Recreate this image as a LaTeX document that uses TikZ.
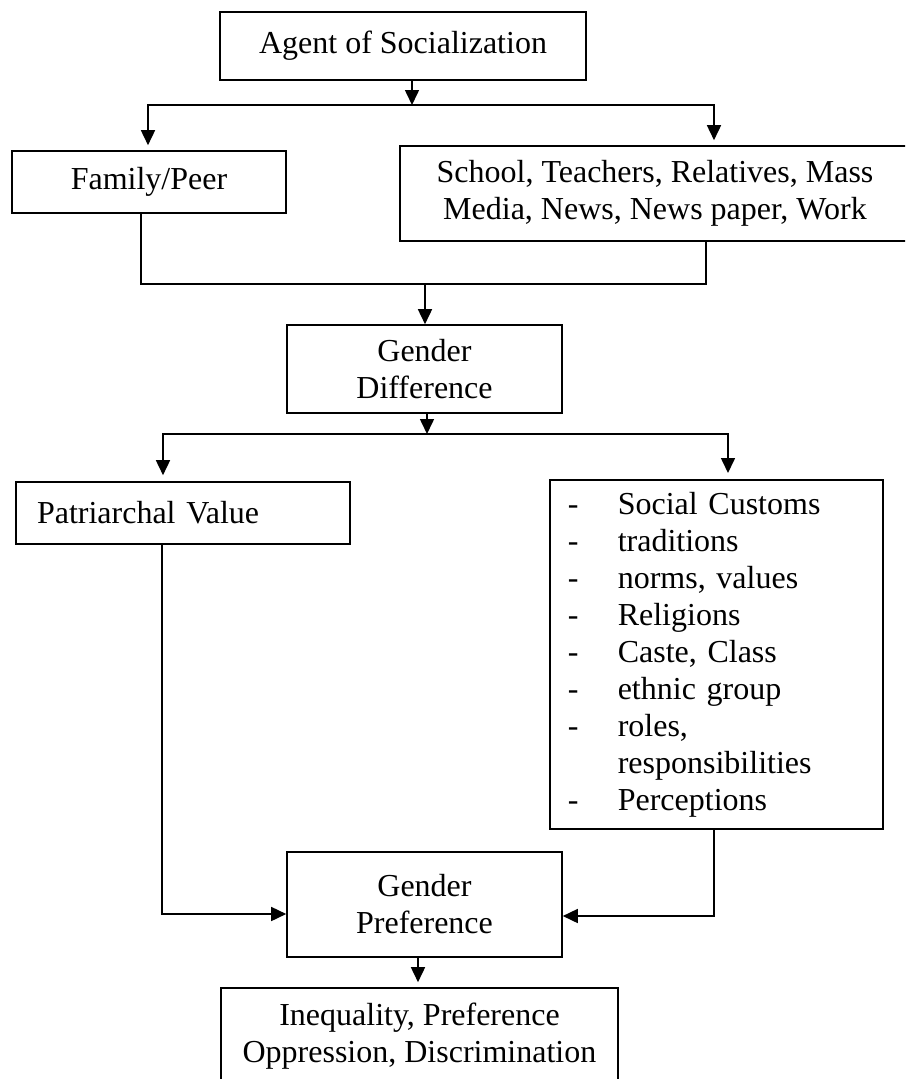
\documentclass[tikz,border=0pt]{standalone}
\usepackage{fontspec}
\setmainfont{Liberation Serif}
\usetikzlibrary{arrows.meta}
\begin{document}
\begin{tikzpicture}[x=1pt,y=-1pt,
  box/.style={draw, line width=1.6pt, inner sep=0pt, align=center, font=\fontsize{32}{37}\selectfont},
  conn/.style={line width=1.6pt},
  arr/.style={conn, -{Triangle[length=15pt,width=14pt]}},
]
\clip (0,0) rectangle (905,1079);
\fill[white] (0,0) rectangle (905,1079);

\node[box, minimum width=366, minimum height=68] (agent) at (403,46) {Agent of Socialization};
\node[box, minimum width=274, minimum height=62] (family) at (149,182) {Family/Peer};
\node[box, minimum width=510, minimum height=95] (school) at (655,193.5) {School, Teachers, Relatives, Mass\\Media, News, News paper, Work};
\node[box, minimum width=275, minimum height=88] (gd) at (424.5,369) {Gender\\Difference};
\node[box, minimum height=62, text width=292, inner xsep=21, align=left] (patri) at (183,513) {Patriarchal Value};
\node[box, anchor=north west, minimum height=349, text width=297, inner xsep=18, align=left] (list) at (549,479) {%
\makebox[50pt][l]{-}Social Customs\\
\makebox[50pt][l]{-}traditions\\
\makebox[50pt][l]{-}norms, values\\
\makebox[50pt][l]{-}Religions\\
\makebox[50pt][l]{-}Caste, Class\\
\makebox[50pt][l]{-}ethnic group\\
\makebox[50pt][l]{-}roles,\\
\hspace*{50pt}responsibilities\\
\makebox[50pt][l]{-}Perceptions};
\node[box, minimum width=275, minimum height=105] (gp) at (424.5,904.5) {Gender\\Preference};
\node[box, minimum width=397, minimum height=96] (ineq) at (419.5,1036) {Inequality, Preference\\Oppression, Discrimination};

% first fork
\coordinate (f1) at (412,105);
\coordinate (fL) at (148,105);
\coordinate (fR) at (714,105);
\draw[arr] (agent.south -| f1) -- (f1);
\draw[arr, shorten >=5pt] (f1) -- (fL) -- (fL |- family.north);
\draw[arr, shorten >=5pt] (f1) -- (fR) -- (fR |- school.north);

% join
\coordinate (jL) at (141,284);
\coordinate (jR) at (706,284);
\coordinate (j) at (425,284);
\draw[conn] (family.south -| jL) -- (jL) -- (jR) -- (school.south -| jR);
\draw[arr] (j) -- (j |- gd.north);

% second fork
\coordinate (g) at (427,434);
\coordinate (gL) at (163,434);
\coordinate (gR) at (728,434);
\draw[arr] (gd.south -| g) -- (g);
\draw[arr, shorten >=6pt] (g) -- (gL) -- (gL |- patri.north);
\draw[arr, shorten >=6pt] (g) -- (gR) -- (gR |- list.north);

% into gender preference
\coordinate (pL) at (162,914);
\coordinate (pR) at (714,916);
\draw[arr] (patri.south -| pL) -- (pL) -- (pL -| gp.west);
\draw[arr] (list.south -| pR) -- (pR) -- (pR -| gp.east);

% to inequality
\coordinate (q) at (418,960);
\draw[arr, shorten >=5pt] (gp.south -| q) -- (ineq.north -| q);
\end{tikzpicture}
\end{document}
